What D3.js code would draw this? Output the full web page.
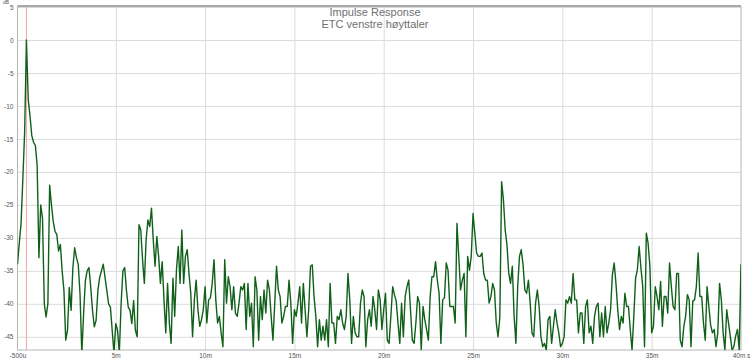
<!DOCTYPE html>
<html><head><meta charset="utf-8">
<script src="https://cdn.jsdelivr.net/npm/d3@7"></script>
<style>
html,body{margin:0;padding:0;background:#fff;}
svg{display:block;font-family:"Liberation Sans",Arial,sans-serif;}
</style></head>
<body><svg id="c" width="750" height="360"></svg>
<script>
const titleLines = ["Impulse Response", "ETC venstre høyttaler"];
const timeStartMs = -0.5;
const sampleStepMs = 0.1;
const etcDb = [
-34,-30.8,-27.8,-21,-14,0,-9,-11.5,-14.5,-15.5,
-16,-19,-33,-25,-27,-40,-42,-40,-22,-25,
-27.5,-29,-29.5,-32,-31,-35,-38,-45.5,-44,-37.5,
-41,-34.5,-31.5,-33,-34,-38.5,-47.5,-41.5,-36.5,-35,
-34.5,-37.5,-41,-43.5,-42.5,-38,-36,-35,-34,-36,
-38,-40,-40.5,-44,-47.5,-43,-44,-47.5,-40,-35,
-34.5,-38,-40.5,-41,-43,-39.5,-44,-45,-28,-28.8,
-33.3,-36.9,-30.3,-27.3,-28.3,-25.5,-30.3,-34.3,-29.8,-32.8,
-36.9,-33.6,-39.4,-44.4,-36.9,-42.9,-46,-36.1,-41.9,-34.8,
-31.3,-36.9,-28.8,-36.9,-32.8,-31.8,-35.4,-38.4,-45,-39.4,
-36.4,-40.9,-43.4,-42.4,-40.9,-37.4,-42.9,-39.4,-39.1,-36.9,
-33.3,-39.4,-42.9,-41.9,-44.4,-46.5,-33.3,-39.9,-35.9,-37.4,
-40.9,-37.4,-41.4,-41.9,-39.9,-37.4,-37.9,-36.9,-43.9,-36.9,
-41.9,-39.9,-46.5,-35.9,-37.9,-45.5,-38.9,-42.4,-37.9,-41.4,
-36.4,-37.9,-41.9,-45.5,-39.9,-34.3,-37.9,-38.9,-42.9,-41.9,
-40.4,-40.4,-36.4,-39.9,-46,-40.9,-41.9,-39.9,-37.4,-42.9,
-36.9,-40.9,-45,-40.9,-34.3,-34.1,-38.9,-41.9,-46.5,-42.4,
-45.5,-43.4,-45.5,-42.4,-46.5,-36.9,-42.9,-42.9,-46,-41.9,
-42.4,-40.9,-42.9,-43.9,-41.9,-35.4,-39.4,-46,-41.9,-44.4,
-45,-45,-39.9,-37.9,-38.9,-46.5,-42.4,-40.9,-43.4,-38.9,
-40.9,-43.9,-37.9,-39.4,-43.9,-40.9,-38.4,-45.5,-46,-41.9,
-37.4,-38.6,-39.6,-42.9,-46,-39.9,-45,-38.9,-37.4,-36.4,
-40.9,-45.5,-46,-42.9,-38.9,-39.9,-47,-40.4,-42.4,-43.9,
-45.5,-38.9,-35.9,-35.9,-33.6,-36.4,-38.4,-46,-39.4,-39.1,
-33.8,-34.9,-40.4,-40.4,-40.4,-42.9,-27.8,-32.8,-37.9,-36.4,
-35.4,-45,-32.8,-34.9,-32.8,-26.3,-29.3,-32.3,-32.8,-32.8,
-32.3,-35.4,-36.4,-36.4,-39.9,-38.9,-36.9,-37.9,-42.9,-45,
-42,-21.5,-24.2,-28.8,-31.1,-35.4,-36.9,-34.3,-41.9,-46,
-37.4,-32.8,-31.8,-34.1,-37.9,-38.4,-36.4,-39.9,-44.4,-45,
-39.9,-37.9,-40.4,-45,-46.5,-46,-47,-42.4,-41.9,-46,
-43.4,-40.9,-42.9,-44.4,-46.5,-46,-45,-39.4,-39.9,-38.9,
-39.9,-35.4,-39.4,-39.4,-44.4,-41.4,-41.4,-46,-40.4,-39.4,
-44.4,-43.4,-46,-41.9,-40.4,-39.9,-45,-41.4,-45,-40.4,
-44.4,-42.9,-40.9,-35.6,-33.8,-36.9,-40.9,-43.9,-41.9,-42.9,
-38.4,-40.4,-40.4,-43.9,-47,-41.9,-36.1,-34.8,-31.3,-34.6,
-37.4,-46.5,-29.3,-30.8,-34.3,-44.4,-43.4,-37.4,-38.9,-40.9,
-36.6,-43.4,-38.9,-38.9,-41.4,-33.8,-37.4,-40.4,-40.9,-35.4,
-35.4,-45.5,-46.5,-43.4,-41.9,-38.6,-39.4,-46.5,-39.6,-39.4,
-37.4,-32.3,-38.9,-38.9,-42.9,-45.5,-37.4,-40.4,-43.2,-44.4,
-43.9,-46.5,-44.4,-36.9,-39.4,-44.4,-47,-40.9,-42.9,-44.9,
-47,-46.5,-44.9,-43.9,-47,-34
];
const xTickValues = [-0.5, 5, 10, 15, 20, 25, 30, 35, 40];
const xTickLabels = ["-500u", "5m", "10m", "15m", "20m", "25m", "30m", "35m", "40m s"];
const yTickValues = [5, 0, -5, -10, -15, -20, -25, -30, -35, -40, -45];
const yTickLabels = ["5", "0", "-5", "-10", "-15", "-20", "-25", "-30", "-35", "-40", "-45"];
const yUnit = "dB";

const svg = d3.select("#c");
const L = 17.5, R = 741, T = 7, B = 350;
const x = d3.scaleLinear().domain([-0.5, 40]).range([L, R]);
const y = d3.scaleLinear().domain([-47, 5]).range([B, T]);

// grid
svg.append("g").attr("transform", `translate(0,${B})`)
  .call(d3.axisBottom(x).tickValues(xTickValues.filter(v => v > 0 && v < 40)).tickSize(-(B - T)).tickFormat(""))
  .call(g => g.select(".domain").remove())
  .call(g => g.selectAll("line").attr("stroke", "#dcdcdc").attr("stroke-width", 1));
svg.append("g").attr("transform", `translate(${L},0)`)
  .call(d3.axisLeft(y).tickValues(yTickValues.filter(v => v < 5)).tickSize(-(R - L)).tickFormat(""))
  .call(g => g.select(".domain").remove())
  .call(g => g.selectAll("line").attr("stroke", "#dcdcdc").attr("stroke-width", 1));

// zero marker
svg.append("line").attr("x1", x(0)).attr("x2", x(0)).attr("y1", T).attr("y2", B)
  .attr("stroke", "#f2a6a6").attr("stroke-width", 1);

// frame
svg.append("rect").attr("x", L).attr("y", T).attr("width", R - L).attr("height", B - T)
  .attr("fill", "none").attr("stroke", "#b4b4b4").attr("stroke-width", 1);
svg.append("line").attr("x1", L).attr("x2", R).attr("y1", T - 1).attr("y2", T - 1)
  .attr("stroke", "#a8a8a8").attr("stroke-width", 2);

// title
svg.append("g").selectAll("text").data(titleLines).join("text")
  .attr("x", 375).attr("y", (d, i) => 16 + i * 12)
  .attr("text-anchor", "middle").attr("font-size", 11).attr("fill", "#707070")
  .text(d => d);

// data line
svg.append("clipPath").attr("id", "clip").append("rect")
  .attr("x", L).attr("y", T).attr("width", R - L).attr("height", B - T);
const pts = etcDb.map((v, i) => ({ t: timeStartMs + i * sampleStepMs, v }));
svg.append("path").datum(pts).attr("clip-path", "url(#clip)")
  .attr("fill", "none").attr("stroke", "#10601a").attr("stroke-width", 1.4)
  .attr("stroke-linejoin", "round")
  .attr("d", d3.line().x(d => x(d.t)).y(d => y(d.v)));

// axes labels
svg.append("g").attr("transform", `translate(0,${B})`)
  .call(d3.axisBottom(x).tickValues(xTickValues).tickSize(0).tickPadding(3)
    .tickFormat((d, i) => xTickLabels[i]))
  .call(g => g.select(".domain").remove())
  .call(g => g.selectAll("text").attr("font-size", 6.5).attr("fill", "#555")
    .attr("font-family", "'Liberation Sans',Arial,sans-serif"));
svg.append("g").attr("transform", `translate(${L},0)`)
  .call(d3.axisLeft(y).tickValues(yTickValues).tickSize(0).tickPadding(4)
    .tickFormat((d, i) => yTickLabels[i]))
  .call(g => g.select(".domain").remove())
  .call(g => g.selectAll("text").attr("font-size", 6.5).attr("fill", "#555")
    .attr("font-family", "'Liberation Sans',Arial,sans-serif"));
svg.append("text").attr("x", 6).attr("y", 4).attr("text-anchor", "middle")
  .attr("font-size", 5).attr("fill", "#555").text(yUnit);
</script></body></html>
